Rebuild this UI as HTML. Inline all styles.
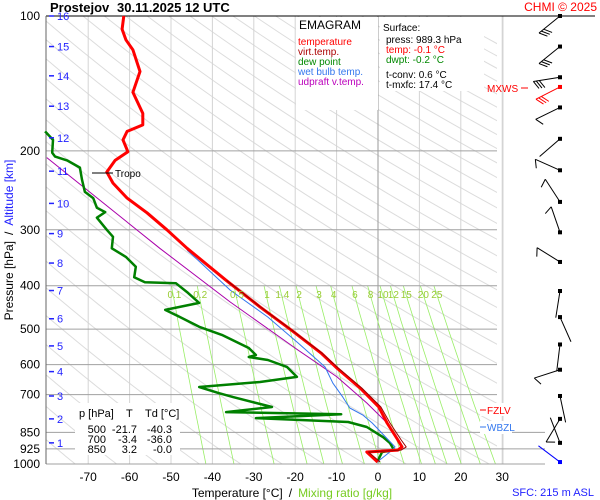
<!DOCTYPE html>
<html><head><meta charset="utf-8"><style>
html,body{margin:0;padding:0;background:#fff;}
svg{display:block;font-family:"Liberation Sans",sans-serif;}
</style></head><body>
<svg id="chart" width="600" height="500" viewBox="0 0 600 500" xmlns="http://www.w3.org/2000/svg">
<g id="grid"></g>
<g id="series"></g>
<g id="wind"></g>
<g id="labels"></g>

<text x="50" y="12" font-size="13" font-weight="bold">Prostejov</text>
<text x="117" y="12" font-size="13" font-weight="bold">30.11.2025 12 UTC</text>
<text x="597" y="11" font-size="12" fill="#ff0000" text-anchor="end">CHMI © 2025</text>

<rect x="296" y="17" width="82" height="93" fill="#fff"/>
<text x="299" y="29" font-size="12">EMAGRAM</text>
<text x="298" y="45" font-size="10" fill="#ff0000">temperature</text>
<text x="298" y="55" font-size="10" fill="#aa0000">virt.temp.</text>
<text x="298" y="65" font-size="10" fill="#008800">dew point</text>
<text x="298" y="75" font-size="10" fill="#3377ee">wet bulb temp.</text>
<text x="298" y="85" font-size="10" fill="#bb00bb">udpraft v.temp.</text>

<rect x="380" y="17" width="104" height="74" fill="#fff"/>
<text x="383" y="31" font-size="10">Surface:</text>
<text x="386" y="43" font-size="10">press: 989.3 hPa</text>
<text x="386" y="53" font-size="10" fill="#ff0000">temp: -0.1 °C</text>
<text x="386" y="63" font-size="10" fill="#008800">dwpt: -0.2 °C</text>
<text x="386" y="78" font-size="10">t-conv: 0.6 °C</text>
<text x="386" y="88" font-size="10">t-mxfc: 17.4 °C</text>

<rect x="75" y="403" width="105" height="52" fill="#fff"/>
<g font-size="11">
<text x="79" y="417">p [hPa]</text><text x="126" y="417">T</text><text x="145" y="417">Td [°C]</text>
<text x="106" y="433" text-anchor="end">500</text><text x="137" y="433" text-anchor="end">-21.7</text><text x="172" y="433" text-anchor="end">-40.3</text>
<text x="106" y="443" text-anchor="end">700</text><text x="137" y="443" text-anchor="end">-3.4</text><text x="172" y="443" text-anchor="end">-36.0</text>
<text x="106" y="453" text-anchor="end">850</text><text x="137" y="453" text-anchor="end">3.2</text><text x="172" y="453" text-anchor="end">-0.0</text>
</g>

<text transform="translate(13,240) rotate(-90)" font-size="12" text-anchor="middle"><tspan fill="#000">Pressure [hPa]</tspan><tspan fill="#000" dx="6">/</tspan><tspan fill="#2222ff" dx="6">Altitude [km]</tspan></text>
<text x="292" y="497" font-size="12" text-anchor="middle"><tspan fill="#000">Temperature [°C]</tspan><tspan fill="#000" dx="6">/</tspan><tspan fill="#77cc22" dx="6">Mixing ratio [g/kg]</tspan></text>
<text x="594" y="496" font-size="11" fill="#2222ff" text-anchor="end">SFC: 215 m ASL</text>

<line x1="92" y1="173" x2="113" y2="173" stroke="#000"/>
<text x="115" y="177" font-size="10">Tropo</text>
<text x="487" y="92" font-size="10" fill="#ff0000">MXWS</text>
<line x1="521" y1="88" x2="528" y2="88" stroke="#ff0000"/>
<rect x="480" y="403" width="32" height="13" fill="#fff"/>
<line x1="480" y1="410" x2="486" y2="410" stroke="#ff0000"/>
<text x="487" y="414" font-size="10" fill="#ff0000">FZLV</text>
<rect x="480" y="421" width="32" height="13" fill="#fff"/>
<line x1="480" y1="427" x2="486" y2="427" stroke="#3377ee"/>
<text x="487" y="431" font-size="10" fill="#3377ee">WBZL</text>
</svg>
<script>
// ---- data ----
const pressureTicks = [100,200,300,400,500,600,700,850,925,1000];
const tempTicks = [-70,-60,-50,-40,-30,-20,-10,0,10,20,30];
const kmTicks = [1,2,3,4,5,6,7,8,9,10,11,12,13,14,15,16];
const kmPressure = [897,793,705,622,545,474,410,356,306,262,222,187,159,136,117,100];
const mixRatios = [0.1,0.2,0.5,1,1.4,2,3,4,6,8,10,12,15,20,25];
const tempP = [100,107,113,119,133,148,165,175,181,189,201,210,223,236,255,275,300,330,389,446,502,565,611,677,746,810,884,916,931,940,990];
const tempT = [-61.4,-61.8,-60.9,-59.2,-57.5,-59.2,-56.8,-56.8,-60.6,-61.6,-60.4,-63.5,-65.5,-64.0,-60.6,-55.8,-51.0,-46.1,-36.7,-28.5,-21.0,-13.8,-9.9,-4.3,0.2,2.2,4.8,5.8,4.8,-2.7,-0.1];
const virtP = [389,446,502,565,611,677,746,810,884,916,931,940,990];
const virtT = [-36.6,-28.4,-20.9,-13.6,-9.6,-3.9,0.7,2.9,5.6,6.8,5.6,-2.3,0.5];
const dewP = [181,189,202,206,210,218,232,247,255,268,274,282,300,311,330,345,363,383,393,395,415,437,453,470,494,515,551,571,577,586,607,639,656,673,694,709,746,766,774,790,806,827,871,898,931,940,990];
const dewT = [-80.4,-78.5,-78.7,-78.0,-75.1,-72.0,-71.5,-70.8,-68.8,-67.9,-65.9,-67.9,-65.5,-64.0,-64.3,-60.9,-58.5,-58.9,-56.3,-48.8,-45.9,-43.2,-51.4,-47.8,-43.2,-37.7,-31.2,-29.5,-31.2,-26.6,-22.0,-19.6,-28.5,-43.2,-38.6,-35.0,-25.6,-36.7,-8.9,-29.5,-7.2,-2.7,1.2,2.9,3.9,1.0,-0.2];
const wetP = [333,409,470,537,607,660,709,750,778,810,916,931,990];
const wetT = [-46.1,-35.7,-26.6,-19.3,-12.8,-10.9,-8.5,-6.8,-3.6,-1.4,4.1,3.4,-0.2];
const updP = [207,330,435,557,639,731,810];
const updT = [-80,-52.7,-35.7,-19.3,-9.9,-2.7,2.2];
const windP = [100,117,137,144,160,188,221,260,304,354,411,470,541,616,705,793,897,990];
const windDir = [231,231,261,243,244,229,294,327,341,302,189,156,187,252,168,211,339,307];
const windBarbs = [3,3,3,3,1,0,1,1,1,1,0,0,0,1,0,1,0,0];

// ---- axes ----
const X0=46, X1=497, Y0=16, Y1=464;
function yP(p){return 16+448*Math.log10(p/100);}
function xT(t){return 378+4.14*t;}
const NS='http://www.w3.org/2000/svg';
function mk(parent,tag,attrs){const e=document.createElementNS(NS,tag);for(const k in attrs)e.setAttribute(k,attrs[k]);parent.appendChild(e);return e;}
const grid=document.getElementById('grid'), series=document.getElementById('series'), wind=document.getElementById('wind'), labels=document.getElementById('labels');

const defs=mk(document.getElementById('chart'),'defs',{});
const cp=mk(defs,'clipPath',{id:'plotclip'});
mk(cp,'rect',{x:X0,y:Y0,width:X1-X0,height:Y1-Y0});

// dry adiabats
const adG=mk(grid,'g',{'clip-path':'url(#plotclip)'});
for(let th=200; th<=560; th+=10){
  let d='';
  for(let p=100;p<=1000;p+=10){
    const T=th*Math.pow(p/1000,0.286)-273.15;
    d+=(d?'L':'M')+xT(T).toFixed(1)+','+yP(p).toFixed(1);
  }
  const a=mk(adG,'path',{d:d,fill:'none',stroke:'#dcdcdc','stroke-width':1});
  
  
}
// isotherms
tempTicks.forEach(t=>{
  const l=mk(grid,'line',{x1:xT(t),y1:Y0,x2:xT(t),y2:Y1,stroke:t===0?'#999':'#d4d4d4','stroke-width':1});
  
  
  const tx=mk(labels,'text',{x:xT(t),y:481,'font-size':12,'text-anchor':'middle'});
  tx.textContent=t;
  
  
});
mk(grid,'line',{x1:503,y1:Y0,x2:503,y2:Y1,stroke:'#d4d4d4'});
// mixing ratio lines
mixRatios.forEach((w,i)=>{
  let d='';
  for(let p=1000;p>=400;p-=20){
    const e=w*p/(622+w);
    const ln=Math.log(e/6.112);
    const Td=243.5*ln/(17.67-ln);
    d+=(d?'L':'M')+xT(Td).toFixed(1)+','+yP(p).toFixed(1);
  }
  const m=mk(grid,'path',{d:d,fill:'none',stroke:'#99ee66','stroke-width':0.8});
  
  
  const e4=w*400/(622+w), ln4=Math.log(e4/6.112), T4=243.5*ln4/(17.67-ln4);
  const tx=mk(labels,'text',{x:xT(T4)+3,y:298,'font-size':10,'text-anchor':'middle',fill:'#99cc33'});
  tx.textContent=w;
  
  
});
// pressure lines
pressureTicks.forEach(p=>{
  const long=p>=850;
  if(p>100){
    const l=mk(grid,'line',{x1:X0,y1:yP(p),x2:long?545:X1,y2:yP(p),stroke:'#a0a0a0','stroke-width':1});
    
    
  }
  const tx=mk(labels,'text',{x:40,y:yP(p)+4,'font-size':12,'text-anchor':'end'});
  tx.textContent=p;
  
  
});
mk(grid,'line',{x1:X0,y1:Y0,x2:595,y2:Y0,stroke:'#000','stroke-width':1});
mk(grid,'line',{x1:X0,y1:Y0,x2:X0,y2:Y1,stroke:'#666','stroke-width':1});
// km ticks
kmTicks.forEach((k,i)=>{
  const y=yP(kmPressure[i]);
  mk(labels,'line',{x1:49,y1:y,x2:54,y2:y,stroke:'#2222ff','stroke-width':1.5});
  const tx=mk(labels,'text',{x:57,y:y+4,'font-size':11,fill:'#2222ff'});
  tx.textContent=k;
  
  
});

// series
function line(P,T,color,w,name){
  let d='';
  P.forEach((p,i)=>{d+=(i?'L':'M')+xT(T[i]).toFixed(1)+','+yP(p).toFixed(1);});
  const e=mk(series,'path',{d:d,fill:'none',stroke:color,'stroke-width':w,'stroke-linejoin':'round'});
  
  
}
line(updP,updT,'#aa00aa',1,'updraft-line');
line(dewP,dewT,'#008000',2.5,'dew-point-line');
line(wetP,wetT,'#3377ee',1,'wet-bulb-line');
line(tempP,tempT,'#ff0000',3,'temperature-line');
line(virtP,virtT,'#990000',1,'virtual-temp-line');

// wind barbs
windP.forEach((p,i)=>{
  const y=yP(p), x=560;
  const col = i===3?'#ff0000':(i===windP.length-1?'#0000ff':'#000');
  const a=windDir[i]*Math.PI/180;
  const ex=x+27*Math.sin(a), ey=y-27*Math.cos(a);
  const g=mk(wind,'g',{stroke:col,'stroke-width':1});
  
  
  mk(g,'line',{x1:x,y1:y,x2:ex,y2:ey});
  for(let b=0;b<windBarbs[i];b++){
    const bx=x+(27-b*3)*Math.sin(a), by=y-(27-b*3)*Math.cos(a);
    const ba=a-Math.PI/3*2;
    mk(g,'line',{x1:bx,y1:by,x2:bx+9*Math.sin(ba),y2:by-9*Math.cos(ba)});
  }
  mk(g,'rect',{x:x-2,y:y-2,width:4,height:4,fill:col,stroke:'none'});
});
</script>
</body></html>
